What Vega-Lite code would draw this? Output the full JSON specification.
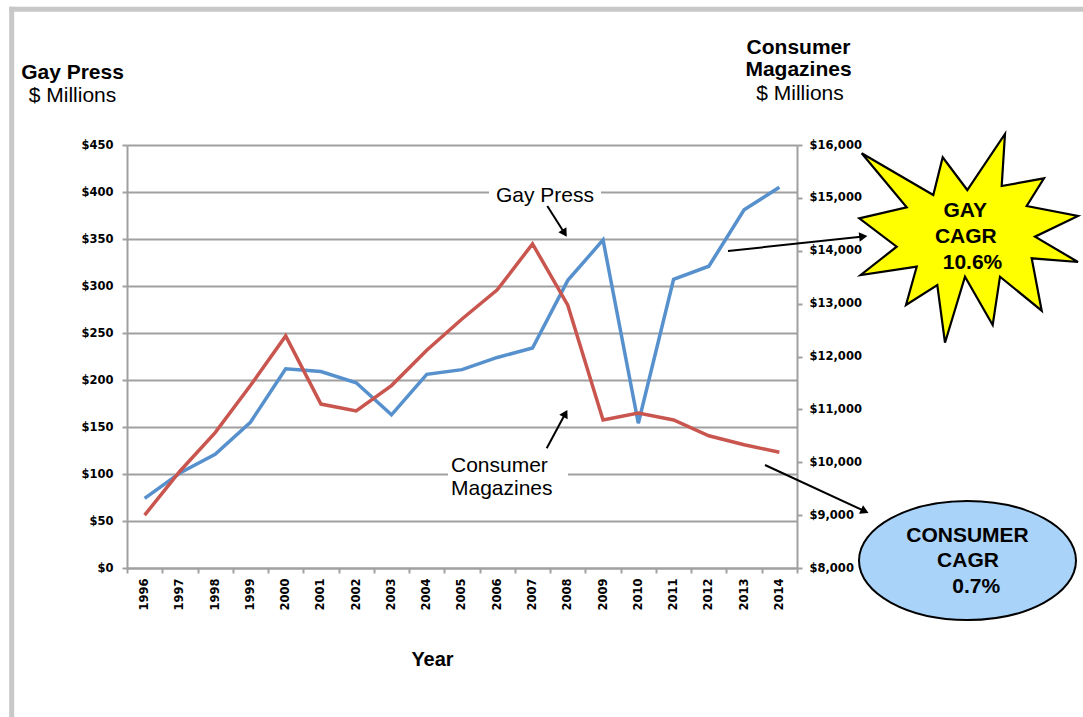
{
  "$schema": "https://vega.github.io/schema/vega-lite/v6.json",
  "width": 670,
  "height": 423,
  "autosize": {"type": "none"},
  "padding": {"left": 127, "top": 145, "right": 286, "bottom": 149},
  "background": "white",
  "config": {"view": {"stroke": null}, "font": "Liberation Sans", "axis": {"labelOverlap": false}},
  "data": {"values": [
    {"year": 1996, "gay": 74, "consumer": 9000},
    {"year": 1997, "gay": 101, "consumer": 9830},
    {"year": 1998, "gay": 121, "consumer": 10560},
    {"year": 1999, "gay": 155, "consumer": 11450},
    {"year": 2000, "gay": 212, "consumer": 12390},
    {"year": 2001, "gay": 209, "consumer": 11100},
    {"year": 2002, "gay": 197, "consumer": 10970},
    {"year": 2003, "gay": 163, "consumer": 11450},
    {"year": 2004, "gay": 206, "consumer": 12120},
    {"year": 2005, "gay": 211, "consumer": 12710},
    {"year": 2006, "gay": 224, "consumer": 13260},
    {"year": 2007, "gay": 234, "consumer": 14130},
    {"year": 2008, "gay": 306, "consumer": 12970},
    {"year": 2009, "gay": 349, "consumer": 10800},
    {"year": 2010, "gay": 154, "consumer": 10930},
    {"year": 2011, "gay": 307, "consumer": 10800},
    {"year": 2012, "gay": 321, "consumer": 10500},
    {"year": 2013, "gay": 381, "consumer": 10330},
    {"year": 2014, "gay": 405, "consumer": 10190}
  ]},
  "layer": [
    {
      "layer": [
        {
          "mark": {"type": "line", "color": "#5791CD", "strokeWidth": 3.5},
          "encoding": {
            "x": {
              "field": "year", "type": "quantitative",
              "scale": {"domain": [1995.5, 2014.5], "nice": false, "zero": false},
              "axis": {
                "values": [1995.5, 1996.5, 1997.5, 1998.5, 1999.5, 2000.5, 2001.5, 2002.5, 2003.5, 2004.5, 2005.5, 2006.5, 2007.5, 2008.5, 2009.5, 2010.5, 2011.5, 2012.5, 2013.5, 2014.5],
                "tickCount": 40,
                "labelExpr": "datum.value < 2014 ? format(datum.value + 0.5, 'd') : ''",
                "labelOffset": 17.63,
                "labelAngle": -90, "labelAlign": "right", "labelBaseline": "middle",
                "labelFont": "DejaVu Sans", "labelFontWeight": "bold", "labelFontSize": 11.5, "labelColor": "black",
                "labelPadding": 5, "labelFlush": false, "labelOverlap": false, "labelBound": false,
                "grid": false,
                "domainColor": "#A0A0A0", "domainWidth": 2,
                "tickColor": "#A0A0A0", "tickWidth": 2, "tickSize": 5,
                "title": "Year", "titleFont": "Liberation Sans", "titleFontSize": 20, "titleFontWeight": "bold", "titleColor": "black",
                "titleX": 305, "titleY": 97, "titleAlign": "center", "titleBaseline": "alphabetic"
              }
            },
            "y": {
              "field": "gay", "type": "quantitative",
              "scale": {"domain": [0, 450], "nice": false},
              "axis": {
                "orient": "left",
                "values": [0, 50, 100, 150, 200, 250, 300, 350, 400, 450],
                "tickCount": 20,
                "labelExpr": "'$' + datum.value",
                "labelFont": "DejaVu Sans", "labelFontWeight": "bold", "labelFontSize": 11.5, "labelColor": "black",
                "labelPadding": 9,
                "grid": true, "gridColor": "#A0A0A0", "gridWidth": 2,
                "domainColor": "#A0A0A0", "domainWidth": 2,
                "tickColor": "#A0A0A0", "tickWidth": 2, "tickSize": 5,
                "title": "Gay Press", "titleFont": "Liberation Sans", "titleFontSize": 21, "titleFontWeight": "bold", "titleColor": "black",
                "titleAngle": 0, "titleX": -55, "titleY": -67, "titleAlign": "center", "titleBaseline": "alphabetic"
              }
            }
          }
        },
        {
          "data": {"values": [{}]},
          "mark": {"type": "rule", "color": "#C8C8C8", "strokeWidth": 5},
          "encoding": {
            "x": {"datum": 1992.162, "type": "quantitative"},
            "x2": {"datum": 2022.7},
            "y": {"datum": 594.47, "type": "quantitative"},
            "y2": {"datum": 594.47}
          }
        },
        {
          "data": {"values": [{}]},
          "mark": {"type": "rule", "color": "#C8C8C8", "strokeWidth": 5},
          "encoding": {
            "x": {"datum": 1992.23, "type": "quantitative"},
            "x2": {"datum": 1992.23},
            "y": {"datum": 597.1, "type": "quantitative"},
            "y2": {"datum": -160}
          }
        },
        {
          "data": {"values": [{}]},
          "mark": {"type": "rect", "color": "white"},
          "encoding": {
            "x": {"datum": 2005.766, "type": "quantitative"},
            "x2": {"datum": 2008.942},
            "y": {"datum": 409.57, "type": "quantitative"},
            "y2": {"datum": 392.55}
          }
        },
        {
          "data": {"values": [{}]},
          "mark": {"type": "text", "text": "Gay Press", "font": "Liberation Sans", "fontSize": 21, "align": "center", "baseline": "alphabetic", "color": "black"},
          "encoding": {
            "x": {"datum": 2007.354, "type": "quantitative"},
            "y": {"datum": 389.68, "type": "quantitative"}
          }
        },
        {
          "data": {"values": [{}]},
          "mark": {"type": "rule", "color": "black", "strokeWidth": 2},
          "encoding": {
            "x": {"datum": 2007.419, "type": "quantitative"},
            "x2": {"datum": 2007.909},
            "y": {"datum": 385.11, "type": "quantitative"},
            "y2": {"datum": 356.07}
          }
        },
        {
          "data": {"values": [{}]},
          "mark": {"type": "point", "shape": "triangle-up", "size": 90, "filled": true, "color": "black", "opacity": 1, "angle": 147.7},
          "encoding": {
            "x": {"datum": 2007.909, "type": "quantitative"},
            "y": {"datum": 356.07, "type": "quantitative"}
          }
        },
        {
          "data": {"values": [{}]},
          "mark": {"type": "rect", "color": "white"},
          "encoding": {
            "x": {"datum": 2004.603, "type": "quantitative"},
            "x2": {"datum": 2008.006},
            "y": {"datum": 108.51, "type": "quantitative"},
            "y2": {"datum": 91.49}
          }
        },
        {
          "data": {"values": [{}]},
          "mark": {"type": "text", "text": ["Consumer", "Magazines"], "lineHeight": 23, "font": "Liberation Sans", "fontSize": 21, "align": "left", "baseline": "alphabetic", "color": "black"},
          "encoding": {
            "x": {"datum": 2004.688, "type": "quantitative"},
            "y": {"datum": 102.45, "type": "quantitative"}
          }
        },
        {
          "data": {"values": [{}]},
          "mark": {"type": "rule", "color": "black", "strokeWidth": 2},
          "encoding": {
            "x": {"datum": 2007.402, "type": "quantitative"},
            "x2": {"datum": 2007.932},
            "y": {"datum": 127.34, "type": "quantitative"},
            "y2": {"datum": 164.36}
          }
        },
        {
          "data": {"values": [{}]},
          "mark": {"type": "point", "shape": "triangle-up", "size": 90, "filled": true, "color": "black", "opacity": 1, "angle": 28.3},
          "encoding": {
            "x": {"datum": 2007.932, "type": "quantitative"},
            "y": {"datum": 164.36, "type": "quantitative"}
          }
        },
        {
          "data": {"values": [{}]},
          "mark": {"type": "point", "shape": "M-1.033,-0.847L-0.317,-0.43L-0.223,-0.807L0.023,-0.48L0.4,-1.04L0.367,-0.52L0.79,-0.597L0.617,-0.32L1.13,-0.22L0.7,-0.013L1.13,0.24L0.667,0.203L0.767,0.727L0.35,0.387L0.277,0.87L0,0.387L-0.2,1.047L-0.277,0.47L-0.59,0.67L-0.483,0.287L-1.043,0.37L-0.683,0.087L-1.057,-0.197L-0.583,-0.307Z", "size": 40000, "filled": true, "fill": "#FFFF00", "stroke": "black", "strokeWidth": 2.2, "opacity": 1, "fillOpacity": 1, "strokeOpacity": 1},
          "encoding": {
            "x": {"datum": 2019.264, "type": "quantitative"},
            "y": {"datum": 351.06, "type": "quantitative"}
          }
        },
        {
          "data": {"values": [{}]},
          "mark": {"type": "rule", "color": "black", "strokeWidth": 2},
          "encoding": {
            "x": {"datum": 2012.543, "type": "quantitative"},
            "x2": {"datum": 2016.38},
            "y": {"datum": 337.23, "type": "quantitative"},
            "y2": {"datum": 352.66}
          }
        },
        {
          "data": {"values": [{}]},
          "mark": {"type": "point", "shape": "triangle-up", "size": 90, "filled": true, "color": "black", "opacity": 1, "angle": 83.9},
          "encoding": {
            "x": {"datum": 2016.38, "type": "quantitative"},
            "y": {"datum": 352.66, "type": "quantitative"}
          }
        },
        {
          "data": {"values": [{}]},
          "mark": {"type": "text", "text": "GAY", "font": "Liberation Sans", "fontSize": 21, "fontWeight": "bold", "align": "center", "baseline": "alphabetic", "color": "black"},
          "encoding": {
            "x": {"datum": 2019.272, "type": "quantitative"},
            "y": {"datum": 373.73, "type": "quantitative"}
          }
        },
        {
          "data": {"values": [{}]},
          "mark": {"type": "text", "text": "CAGR", "font": "Liberation Sans", "fontSize": 21, "fontWeight": "bold", "align": "center", "baseline": "alphabetic", "color": "black"},
          "encoding": {
            "x": {"datum": 2019.287, "type": "quantitative"},
            "y": {"datum": 346.06, "type": "quantitative"}
          }
        },
        {
          "data": {"values": [{}]},
          "mark": {"type": "text", "text": "10.6%", "font": "Liberation Sans", "fontSize": 21, "fontWeight": "bold", "align": "center", "baseline": "alphabetic", "color": "black"},
          "encoding": {
            "x": {"datum": 2019.476, "type": "quantitative"},
            "y": {"datum": 318.09, "type": "quantitative"}
          }
        },
        {
          "data": {"values": [{}]},
          "mark": {"type": "point", "shape": "M-1.085,0A1.085,0.595,0,1,1,1.085,0A1.085,0.595,0,1,1,-1.085,0Z", "size": 40000, "filled": true, "fill": "#A9D3F9", "stroke": "black", "strokeWidth": 2, "opacity": 1, "fillOpacity": 1, "strokeOpacity": 1},
          "encoding": {
            "x": {"datum": 2019.335, "type": "quantitative"},
            "y": {"datum": 7.98, "type": "quantitative"}
          }
        },
        {
          "data": {"values": [{}]},
          "mark": {"type": "rule", "color": "black", "strokeWidth": 2},
          "encoding": {
            "x": {"datum": 2013.592, "type": "quantitative"},
            "x2": {"datum": 2016.422},
            "y": {"datum": 109.57, "type": "quantitative"},
            "y2": {"datum": 60.43}
          }
        },
        {
          "data": {"values": [{}]},
          "mark": {"type": "point", "shape": "triangle-up", "size": 90, "filled": true, "color": "black", "opacity": 1, "angle": 114.8},
          "encoding": {
            "x": {"datum": 2016.422, "type": "quantitative"},
            "y": {"datum": 60.43, "type": "quantitative"}
          }
        },
        {
          "data": {"values": [{}]},
          "mark": {"type": "text", "text": "CONSUMER", "font": "Liberation Sans", "fontSize": 21, "fontWeight": "bold", "align": "center", "baseline": "alphabetic", "color": "black"},
          "encoding": {
            "x": {"datum": 2019.335, "type": "quantitative"},
            "y": {"datum": 27.98, "type": "quantitative"}
          }
        },
        {
          "data": {"values": [{}]},
          "mark": {"type": "text", "text": "CAGR", "font": "Liberation Sans", "fontSize": 21, "fontWeight": "bold", "align": "center", "baseline": "alphabetic", "color": "black"},
          "encoding": {
            "x": {"datum": 2019.349, "type": "quantitative"},
            "y": {"datum": 0.745, "type": "quantitative"}
          }
        },
        {
          "data": {"values": [{}]},
          "mark": {"type": "text", "text": "0.7%", "font": "Liberation Sans", "fontSize": 21, "fontWeight": "bold", "align": "center", "baseline": "alphabetic", "color": "black"},
          "encoding": {
            "x": {"datum": 2019.584, "type": "quantitative"},
            "y": {"datum": -26.91, "type": "quantitative"}
          }
        },
        {
          "data": {"values": [{}]},
          "mark": {"type": "text", "text": "$ Millions", "font": "Liberation Sans", "fontSize": 21, "align": "center", "baseline": "alphabetic", "color": "black"},
          "encoding": {
            "x": {"datum": 1993.954, "type": "quantitative"},
            "y": {"datum": 495.74, "type": "quantitative"}
          }
        },
        {
          "data": {"values": [{}]},
          "mark": {"type": "text", "text": "$ Millions", "font": "Liberation Sans", "fontSize": 21, "align": "center", "baseline": "alphabetic", "color": "black"},
          "encoding": {
            "x": {"datum": 2014.585, "type": "quantitative"},
            "y": {"datum": 497.87, "type": "quantitative"}
          }
        }
      ]
    },
    {
      "mark": {"type": "line", "color": "#C9554F", "strokeWidth": 3.5},
      "encoding": {
        "x": {
          "field": "year", "type": "quantitative",
          "axis": {
            "values": [1995.5, 1996.5, 1997.5, 1998.5, 1999.5, 2000.5, 2001.5, 2002.5, 2003.5, 2004.5, 2005.5, 2006.5, 2007.5, 2008.5, 2009.5, 2010.5, 2011.5, 2012.5, 2013.5, 2014.5],
            "tickCount": 40,
            "labelExpr": "datum.value < 2014 ? format(datum.value + 0.5, 'd') : ''",
            "labelOffset": 17.63,
            "labelAngle": -90, "labelAlign": "right", "labelBaseline": "middle",
            "labelFont": "DejaVu Sans", "labelFontWeight": "bold", "labelFontSize": 11.5, "labelColor": "black",
            "labelPadding": 5, "labelFlush": false, "labelOverlap": false, "labelBound": false,
            "grid": false,
            "domainColor": "#A0A0A0", "domainWidth": 2,
            "tickColor": "#A0A0A0", "tickWidth": 2, "tickSize": 5,
            "title": "Year", "titleFont": "Liberation Sans", "titleFontSize": 20, "titleFontWeight": "bold", "titleColor": "black",
            "titleX": 305, "titleY": 97, "titleAlign": "center", "titleBaseline": "alphabetic"
          }
        },
        "y": {
          "field": "consumer", "type": "quantitative",
          "scale": {"domain": [8000, 16000], "nice": false, "zero": false},
          "axis": {
            "orient": "right",
            "values": [8000, 9000, 10000, 11000, 12000, 13000, 14000, 15000, 16000],
            "tickCount": 20,
            "labelExpr": "'$' + format(datum.value, ',')",
            "labelFont": "DejaVu Sans", "labelFontWeight": "bold", "labelFontSize": 11.5, "labelColor": "black",
            "labelPadding": 7,
            "grid": false,
            "domainColor": "#A0A0A0", "domainWidth": 2,
            "tickColor": "#A0A0A0", "tickWidth": 2, "tickSize": 5,
            "title": ["Consumer", "Magazines"], "titleFont": "Liberation Sans", "titleFontSize": 21, "titleFontWeight": "bold", "titleColor": "black",
            "titleAngle": 0, "titleX": 1, "titleY": -92, "titleAlign": "center", "titleBaseline": "alphabetic", "titleLineHeight": 22
          }
        }
      }
    }
  ],
  "resolve": {"scale": {"y": "independent"}}
}
